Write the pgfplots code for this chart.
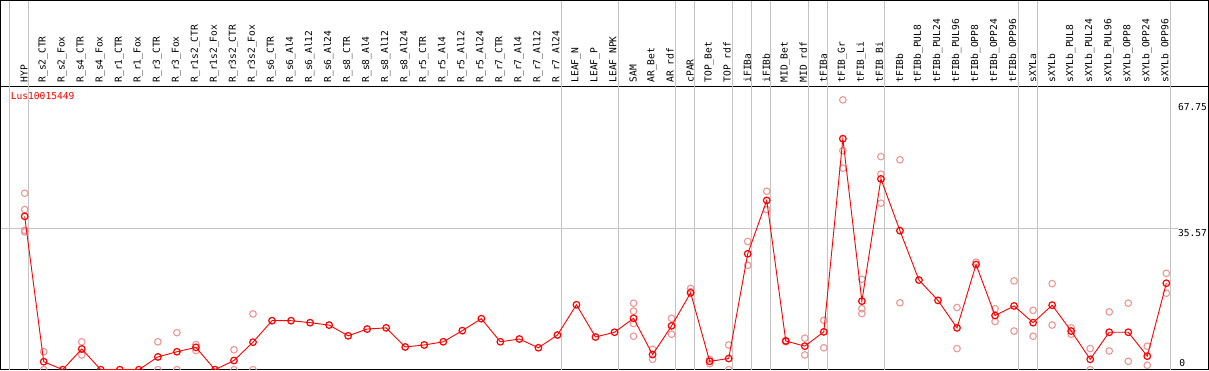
\documentclass[border=0pt]{standalone}
\usepackage{fontspec}
\setmainfont{DejaVu Sans Mono}
\usepackage{pgfplots}
\usepackage{pgfplotstable}
\pgfplotsset{compat=1.18}
\definecolor{rep}{RGB}{236,150,150}
\definecolor{grd}{RGB}{196,196,196}

\pgfplotstableread{
x y
0 38.5
1 2.0
2 0
3 5.2
4 0
5 0
6 0
7 3.2
8 4.5
9 5.6
10 0
11 2.3
12 6.9
13 12.3
14 12.3
15 11.8
16 11.2
17 8.5
18 10.2
19 10.5
20 5.7
21 6.2
22 7.0
23 9.8
24 12.8
25 7.0
26 7.7
27 5.5
28 8.7
29 16.3
30 8.2
31 9.4
32 12.9
33 3.8
34 11.0
35 19.3
36 2.1
37 2.8
38 29.1
39 42.5
40 7.2
41 5.9
42 9.5
43 58.0
44 17.2
45 47.9
46 34.9
47 22.5
48 17.4
49 10.5
50 26.4
51 13.6
52 16.0
53 11.8
54 16.2
55 9.7
56 2.6
57 9.4
58 9.4
59 3.4
60 21.7
}\means

\pgfplotstableread{
x y
0 44.3
0 40.2
0 35.0
0 34.6
1 4.5
1 0
3 7.0
3 3.7
7 7.0
7 0
8 9.3
8 0
9 6.3
9 4.8
11 5.0
11 0
12 14.0
12 0
32 16.7
32 14.7
32 11.6
32 8.4
33 5.1
33 2.6
34 12.9
34 8.9
35 20.4
35 19.6
36 2.6
36 1.5
37 6.2
37 0
38 32.2
38 26.2
39 44.8
39 40.2
40 7.0
40 7.3
41 7.9
41 3.7
42 12.4
42 5.5
43 67.75
43 55.0
43 50.6
44 22.7
44 15.3
44 14.1
45 53.5
45 49.1
45 41.8
46 52.7
46 16.8
49 15.6
49 5.3
50 27.0
51 15.3
51 12.1
52 22.3
52 9.7
53 14.9
53 8.4
54 21.6
54 11.2
55 10.5
55 8.9
56 5.3
56 0
57 14.5
57 4.7
58 16.7
58 2.1
59 5.9
59 1.1
60 24.2
60 19.2
}\reps

\newcommand{\lab}{\fontsize{9.6bp}{10bp}\selectfont}

\begin{document}
\begin{tikzpicture}
\begin{axis}[
  scale only axis,
  width=1206bp, height=283bp,
  xmin=-1.263, xmax=62.21,
  ymin=0, ymax=71.16,
  axis line style={black, line width=1.3bp},
  ytick=\empty,
  xtick={0,...,60},
  xticklabels={HYP,R\_s2\_CTR,R\_s2\_Fox,R\_s4\_CTR,R\_s4\_Fox,R\_r1\_CTR,R\_r1\_Fox,R\_r3\_CTR,R\_r3\_Fox,R\_r1s2\_CTR,R\_r1s2\_Fox,R\_r3s2\_CTR,R\_r3s2\_Fox,R\_s6\_CTR,R\_s6\_Al4,R\_s6\_Al12,R\_s6\_Al24,R\_s8\_CTR,R\_s8\_Al4,R\_s8\_Al12,R\_s8\_Al24,R\_r5\_CTR,R\_r5\_Al4,R\_r5\_Al12,R\_r5\_Al24,R\_r7\_CTR,R\_r7\_Al4,R\_r7\_Al12,R\_r7\_Al24,LEAF\_N,LEAF\_P,LEAF\_NPK,SAM,AR\_Bet,AR\_rdf,cPAR,TOP\_Bet,TOP\_rdf,iFIBa,iFIBb,MID\_Bet,MID\_rdf,tFIBa,tFIB\_Gr,tFIB\_Li,tFIB\_Bi,tFIBb,tFIBb\_PUL8,tFIBb\_PUL24,tFIBb\_PUL96,tFIBb\_OPP8,tFIBb\_OPP24,tFIBb\_OPP96,sXYLa,sXYLb,sXYLb\_PUL8,sXYLb\_PUL24,sXYLb\_PUL96,sXYLb\_OPP8,sXYLb\_OPP24,sXYLb\_OPP96},
  xticklabel pos=upper,
  major tick length=0pt,
  x tick label style={rotate=90, anchor=west, font=\lab, inner sep=0pt, xshift=3.5bp, yshift=0.5bp},
  clip marker paths=true,
  after end axis/.code={
    \foreach \g in {-1,0,28,31,34,35,37,38,39,41,42,45,52,53,60}{
      \draw[grd, line width=1bp] (axis cs:\g+0.21,71.16) -- (axis cs:\g+0.21,92.7);
    }
    \draw[black, line width=1.3bp] (rel axis cs:0,1) -- (rel axis cs:0,1.3021) -- (rel axis cs:1,1.3021) -- (rel axis cs:1,1);
    \node[anchor=north east, inner sep=0pt, font=\lab] at (axis cs:62.15,66.9) {67.75};
    \node[anchor=north east, inner sep=0pt, font=\lab] at (axis cs:62.15,35.2) {35.57};
    \node[anchor=south west, inner sep=0pt, font=\lab] at (axis cs:60.68,0.6) {0};
    \node[anchor=north west, inner sep=0pt, font=\lab, text=red] at (axis cs:-0.74,69.6) {Lus10015449};
  },
]
\foreach \g in {-1,0,28,31,34,35,37,38,39,41,42,45,52,53,60}{
  \edef\temp{\noexpand\draw[grd, line width=1bp] (axis cs:\g+0.21,0) -- (axis cs:\g+0.21,71.16);}
  \temp
}
\draw[grd, line width=1bp] (axis cs:-1.263,35.57) -- (axis cs:60.63,35.57);
\addplot[only marks, mark=o, mark size=3.3bp, mark options={rep, line width=1.1bp}] table[x=x,y=y] {\reps};
\addplot[red, line width=0.9bp, mark=o, mark size=3.3bp, mark options={red, line width=1.2bp}] table[x=x,y=y] {\means};
\end{axis}
\end{tikzpicture}
\end{document}
